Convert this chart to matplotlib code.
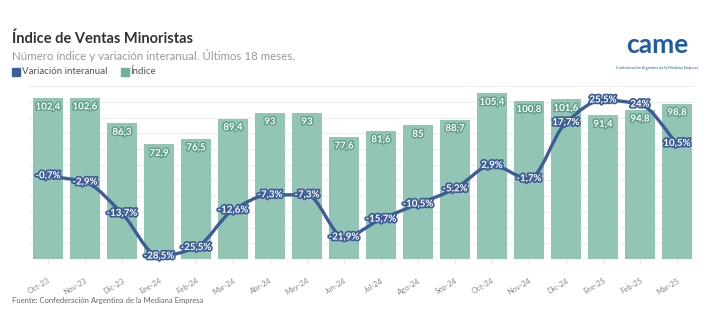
import numpy as np
import matplotlib
matplotlib.use("Agg")
import matplotlib.pyplot as plt
import matplotlib.patheffects as pe
from matplotlib.path import Path
from matplotlib.patches import PathPatch

plt.rcParams['font.family'] = ['Lato', 'DejaVu Sans']

meses = ['Oct-23', 'Nov-23', 'Dic-23', 'Ene-24', 'Feb-24', 'Mar-24', 'Abr-24', 'May-24', 'Jun-24',
         'Jul-24', 'Ago-24', 'Sep-24', 'Oct-24', 'Nov-24', 'Dic-24', 'Ene-25', 'Feb-25', 'Mar-25']
indice = [102.4, 102.6, 86.3, 72.9, 76.5, 89.4, 93, 93, 77.6,
          81.6, 85, 88.7, 105.4, 100.8, 101.6, 91.4, 94.8, 98.8]
variacion = [-0.7, -2.9, -13.7, -28.5, -25.5, -12.6, -7.3, -7.3, -21.9,
             -15.7, -10.5, -5.2, 2.9, -1.7, 17.7, 25.5, 24, 10.5]

verde = '#93c5b4'
verde_osc = '#5e9e88'
azul = '#3d5d99'


def fmt(v):
    s = ('%.1f' % v).rstrip('0').rstrip('.')
    return s.replace('.', ',')


def curva_suave(x, y):
    # monotone cubic (Fritsch-Carlson) drawn as bezier segments
    x = np.asarray(x, float)
    y = np.asarray(y, float)
    n = len(x)
    h = np.diff(x)
    d = np.diff(y) / h
    m = np.zeros(n)
    m[0], m[-1] = d[0], d[-1]
    for i in range(1, n - 1):
        if d[i - 1] * d[i] <= 0:
            m[i] = 0
        else:
            m[i] = 2 / (1 / d[i - 1] + 1 / d[i])
    verts = [(x[0], y[0])]
    codes = [Path.MOVETO]
    for i in range(n - 1):
        verts += [(x[i] + h[i] / 3, y[i] + m[i] * h[i] / 3),
                  (x[i + 1] - h[i] / 3, y[i + 1] - m[i + 1] * h[i] / 3),
                  (x[i + 1], y[i + 1])]
        codes += [Path.CURVE4] * 3
    return Path(verts, codes)


fig = plt.figure(figsize=(7.18, 3.30), dpi=100)
ax = fig.add_axes([0.041, 0.215, 0.9276, 0.524])
x = np.arange(len(meses))

ax.bar(x, indice, width=0.8, color=verde, zorder=2)
ax.set_xlim(-0.5, len(meses) - 0.5)
ax.set_ylim(0, 110)
ax.set_yticks(np.arange(0, 111, 10))
ax.yaxis.grid(True, color='#eeeeee', linewidth=0.8, zorder=0)
for s in ax.spines.values():
    s.set_visible(False)
ax.set_xticks(x)
ax.set_xticklabels(meses, rotation=30, ha='right', rotation_mode='anchor',
                   fontsize=5.5, color='#888888')
ax.tick_params(axis='x', length=3, color='#e4e4e4', pad=10)

for xi, v in zip(x, indice):
    ax.annotate(fmt(v), (xi, v), xytext=(0, -9), textcoords='offset pixels',
                ha='center', va='center', fontsize=7, color='white', fontweight='bold',
                path_effects=[pe.withStroke(linewidth=2, foreground=verde_osc)], zorder=3)

ax2 = ax.twinx()
ax2.set_ylim(-29.5, 30.3)
ax2.axis('off')
ax.tick_params(axis='y', left=False, right=False, labelleft=False, labelright=False)
ax2.add_patch(PathPatch(curva_suave(x, variacion), fill=False, edgecolor=azul,
                        linewidth=2.4, capstyle='round', joinstyle='round', zorder=4))
for xi, v in zip(x, variacion):
    ax2.text(xi, v, fmt(v) + '%', ha='center', va='center', fontsize=7,
             color='white', fontweight='bold',
             path_effects=[pe.withStroke(linewidth=2.5, foreground=azul)], zorder=5)

fig.text(0.017, 0.882, 'Índice de Ventas Minoristas', fontsize=10.5, fontweight='bold',
         color='#333333', va='center')
fig.text(0.017, 0.833, 'Número índice y variación interanual. Últimos 18 meses.',
         fontsize=8.3, color='#999999', va='center')

# leyenda
fig.patches.append(plt.Rectangle((0.017, 0.770), 0.011, 0.024, color=azul,
                                 transform=fig.transFigure, figure=fig))
fig.text(0.030, 0.782, 'Variación interanual', fontsize=7, color='#555555', va='center')
fig.patches.append(plt.Rectangle((0.168, 0.770), 0.011, 0.024, color='#6fb39c',
                                 transform=fig.transFigure, figure=fig))
fig.text(0.181, 0.782, 'Índice', fontsize=7, color='#555555', va='center')

# logo
fig.text(0.915, 0.865, 'came', fontsize=19, fontweight='bold', color='#1c5ca8',
         ha='center', va='center')
fig.text(0.915, 0.795, 'Confederación Argentina de la Mediana Empresa', fontsize=2.8,
         color='#1c5ca8', ha='center', va='center')

fig.text(0.017, 0.088, 'Fuente: Confederación Argentina de la Mediana Empresa',
         fontsize=5.5, color='#666666', va='center')

fig.savefig('out.png', dpi=100, facecolor='white')
